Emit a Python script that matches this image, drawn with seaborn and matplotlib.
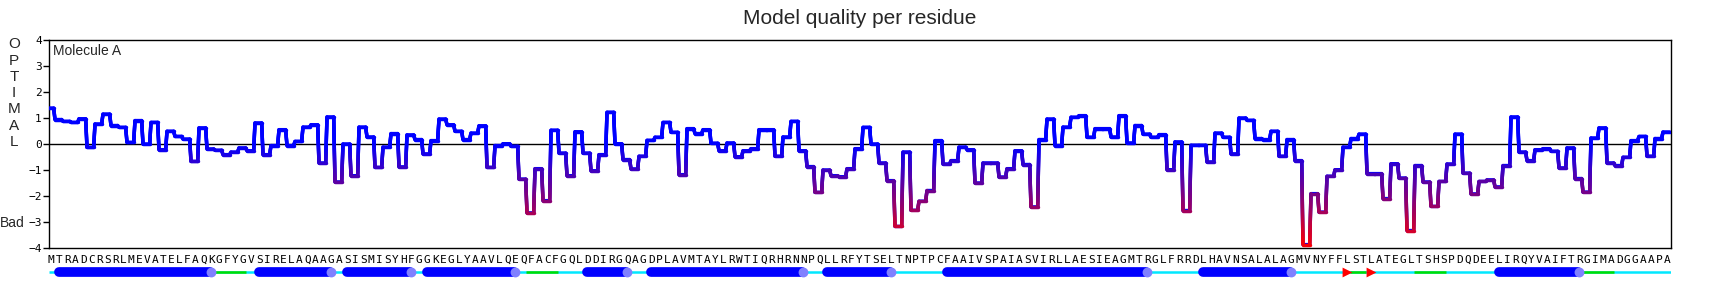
import numpy as np
import pandas as pd
import matplotlib
matplotlib.use("Agg")
import matplotlib.pyplot as plt
import seaborn as sns
from matplotlib.collections import LineCollection
from matplotlib import font_manager

# ---------------- data ----------------
sequence = ("MTRADCRSRLMEVATELFAQKGFYGVSIRELAQAAGASISMISYHFGGKEGLYAAVLQEQ"
            "FACFGQLDDIRGQAGDPLAVMTAYLRWTIQRHRNNPQLLRFYTSELTNPTPCFAAIVSPA"
            "IASVIRLLAESIEAGMTRGLFRRDLHAVNSALALAGMVNYFFLSTLATEGLTSHSPDQDE"
            "ELIRQYVAIFTRGIMADGGAAPA")

scores = [
    1.38, 0.94, 0.87, 0.83, 0.97, -0.13, 0.77, 1.15, 0.71, 0.64,
    0.06, 0.90, 0.00, 0.83, -0.22, 0.49, 0.29, 0.19, -0.67, 0.62,
    -0.19, -0.24, -0.41, -0.31, -0.15, -0.26, 0.81, -0.41, -0.06, 0.55,
    -0.06, 0.10, 0.65, 0.74, -0.73, 1.04, -1.46, 0.00, -1.22, 0.65,
    0.27, -0.90, -0.12, 0.40, -0.88, 0.35, 0.17, -0.38, 0.13, 0.96,
    0.74, 0.49, 0.17, 0.42, 0.70, -0.90, -0.06, 0.01, -0.09, -1.35,
    -2.65, -0.95, -2.18, 0.53, -0.35, -1.22, 0.47, -0.35, -1.03, -0.41,
    1.22, 0.01, -0.60, -0.96, -0.47, 0.14, 0.26, 0.83, 0.45, -1.18,
    0.59, 0.40, 0.55, 0.03, -0.26, 0.04, -0.49, -0.26, -0.18, 0.55,
    0.55, -0.47, 0.27, 0.87, -0.26, -0.87, -1.86, -1.00, -1.22, -1.26,
    -0.95, -0.18, 0.64, 0.00, -0.73, -1.41, -3.17, -0.31, -2.55, -2.20,
    -1.79, 0.13, -0.77, -0.64, -0.12, -0.22, -1.50, -0.73, -0.73, -1.27,
    -0.95, -0.26, -0.79, -2.42, 0.17, 0.96, -0.06, 0.65, 1.03, 1.09,
    0.26, 0.59, 0.59, 0.27, 1.09, 0.04, 0.71, 0.38, 0.26, 0.36,
    -0.99, 0.08, -2.56, -0.05, -0.05, -0.69, 0.42, 0.26, -0.38, 1.00,
    0.91, 0.21, 0.17, 0.49, -0.47, 0.17, -0.64, -3.87, -1.91, -2.62,
    -1.24, -0.99, -0.12, 0.21, 0.38, -1.14, -1.14, -2.10, -0.76, -1.31,
    -3.33, -0.83, -1.46, -2.40, -1.44, -0.77, 0.38, -1.12, -1.92, -1.44,
    -1.38, -1.65, -0.83, 1.04, -0.31, -0.64, -0.22, -0.18, -0.28, -0.92,
    -0.15, -1.33, -1.85, 0.23, 0.62, -0.73, -0.83, -0.51, 0.13, 0.29,
    -0.47, 0.21, 0.46,
]

# secondary structure: (type, first residue, last residue)
ss_segments = [
    ("coil", 0, 0), ("helix", 1, 20), ("turn", 21, 24), ("coil", 25, 25),
    ("helix", 26, 35), ("coil", 36, 36), ("helix", 37, 45), ("coil", 46, 46),
    ("helix", 47, 58), ("coil", 59, 59), ("turn", 60, 63), ("coil", 64, 66),
    ("helix", 67, 72), ("coil", 73, 74), ("helix", 75, 94), ("coil", 95, 96),
    ("helix", 97, 105), ("coil", 106, 111), ("helix", 112, 137), ("coil", 138, 143),
    ("helix", 144, 155), ("coil", 156, 161), ("strand", 162, 162), ("turn", 163, 164),
    ("strand", 165, 165), ("coil", 166, 170), ("turn", 171, 174), ("coil", 175, 180),
    ("helix", 181, 191), ("turn", 192, 195), ("coil", 196, 202),
]

y_ticks = [4, 3, 2, 1, 0, -1, -2, -3, -4]
side_label = "OPTIMAL"
title = "Model quality per residue"
molecule = "Molecule A"

# ---------------- style ----------------
sns.set_style("white")
names = {f.name for f in font_manager.fontManager.ttflist}
sans = "Liberation Sans" if "Liberation Sans" in names else "DejaVu Sans"
mono = "DejaVu Sans Mono"
plt.rcParams["font.family"] = [sans, "DejaVu Sans"]
plt.rcParams["axes.unicode_minus"] = True

W, H = 1720, 288
fig = plt.figure(figsize=(W / 100, H / 100), dpi=100)
L, R, T, B = 49, 1671, 40, 248
ax = fig.add_axes([L / W, 1 - B / H, (R - L) / W, (B - T) / H])

n = len(scores)
xlim = ((L - 46.33) / 8.0, (R - 46.33) / 8.0)

# step path
xs, ys = [], []
for k, v in enumerate(scores):
    xs += [k + 0.08, k + 0.92]
    ys += [v, v]
df = pd.DataFrame({"pos": xs, "score": ys})
lw = 2.5
sns.lineplot(data=df, x="pos", y="score", ax=ax, color="#0000ff", lw=lw,
             estimator=None, sort=False, zorder=3)


def qcolor(v):
    t = float(np.clip(-v / 4.0, 0, 1))
    return (t, 0.0, 1.0 - t)


segs, cols = [], []
for i in range(len(xs) - 1):
    x0, y0, x1, y1 = xs[i], ys[i], xs[i + 1], ys[i + 1]
    m = max(1, int(abs(y1 - y0) / 0.04))
    for j in range(m):
        a, b = j / m, (j + 1) / m
        segs.append([(x0 + (x1 - x0) * a, y0 + (y1 - y0) * a),
                     (x0 + (x1 - x0) * b, y0 + (y1 - y0) * b)])
        cols.append(qcolor(y0 + (y1 - y0) * (a + b) / 2))
lc = LineCollection(segs, colors=cols, linewidths=lw, capstyle="round",
                    joinstyle="round", zorder=4)
ax.add_collection(lc)

ax.axhline(0, color="black", lw=1.0, zorder=2)
ax.set_xlim(*xlim)
ax.set_ylim(-4, 4)
ax.set_yticks(y_ticks)
ax.set_yticklabels([("\u2212" + str(-t)) if t < 0 else str(t) for t in y_ticks],
                   family=mono, fontsize=8)
ax.set_xticks([])
ax.set_xlabel("")
ax.set_ylabel("")
ax.tick_params(axis="y", direction="out", length=4, width=1, pad=1.2, left=True,
               colors="black")
for s in ax.spines.values():
    s.set_color("black")
    s.set_linewidth(1.0)
    s.set_visible(True)

ax.text((53 - L) / (R - L), (B - 50.7) / (B - T), molecule, transform=ax.transAxes,
        ha="left", va="center", fontsize=10, family=sans)

# side labels
for i, ch in enumerate(side_label):
    fig.text(14 / W, 1 - (44.5 + i * 16.2) / H, ch, ha="center", va="center",
             fontsize=11, family=sans)
fig.text(12 / W, 1 - 223 / H, "Bad", ha="center", va="center", fontsize=10,
         family=sans)
fig.text(0.5, 1 - 18 / H, title, ha="center", va="center", fontsize=15, family=sans)

# sequence + secondary structure track
ax2 = fig.add_axes([L / W, 1 - 280 / H, (R - L) / W, 28 / H])
ax2.set_xlim(*xlim)
ax2.set_ylim(28, 0)
ax2.axis("off")
for k, ch in enumerate(sequence):
    ax2.text(k + 0.62, 8.2, ch, ha="center", va="center", family=mono,
             fontsize=8, color="black")

track_y = 19.7
ax2.plot([xlim[0], xlim[1]], [track_y, track_y], color="#00e8ff", lw=1.8,
         solid_capstyle="butt", zorder=1)
circ_x, tri_x = [], []
for kind, s, e in ss_segments:
    if kind == "turn":
        ax2.plot([s, e + 1], [track_y, track_y], color="#00dd00", lw=1.8,
                 solid_capstyle="butt", zorder=2)
    elif kind == "helix":
        ax2.plot([s + 0.6, e + 0.5], [track_y, track_y], color="#0000ff", lw=7.0,
                 solid_capstyle="round", zorder=3)
        circ_x.append(e + 0.55)
    elif kind == "strand":
        tri_x.append(s + 0.55)

sns.scatterplot(x=circ_x, y=[track_y] * len(circ_x), ax=ax2, color="#8080ff",
                s=50, marker="o", linewidth=0, zorder=4)
sns.scatterplot(x=tri_x, y=[track_y] * len(tri_x), ax=ax2, color="#ff0000",
                s=50, marker=">", linewidth=0, zorder=4)
ax2.set_xlim(*xlim)
ax2.set_ylim(28, 0)

fig.savefig("out.png", dpi=100)
